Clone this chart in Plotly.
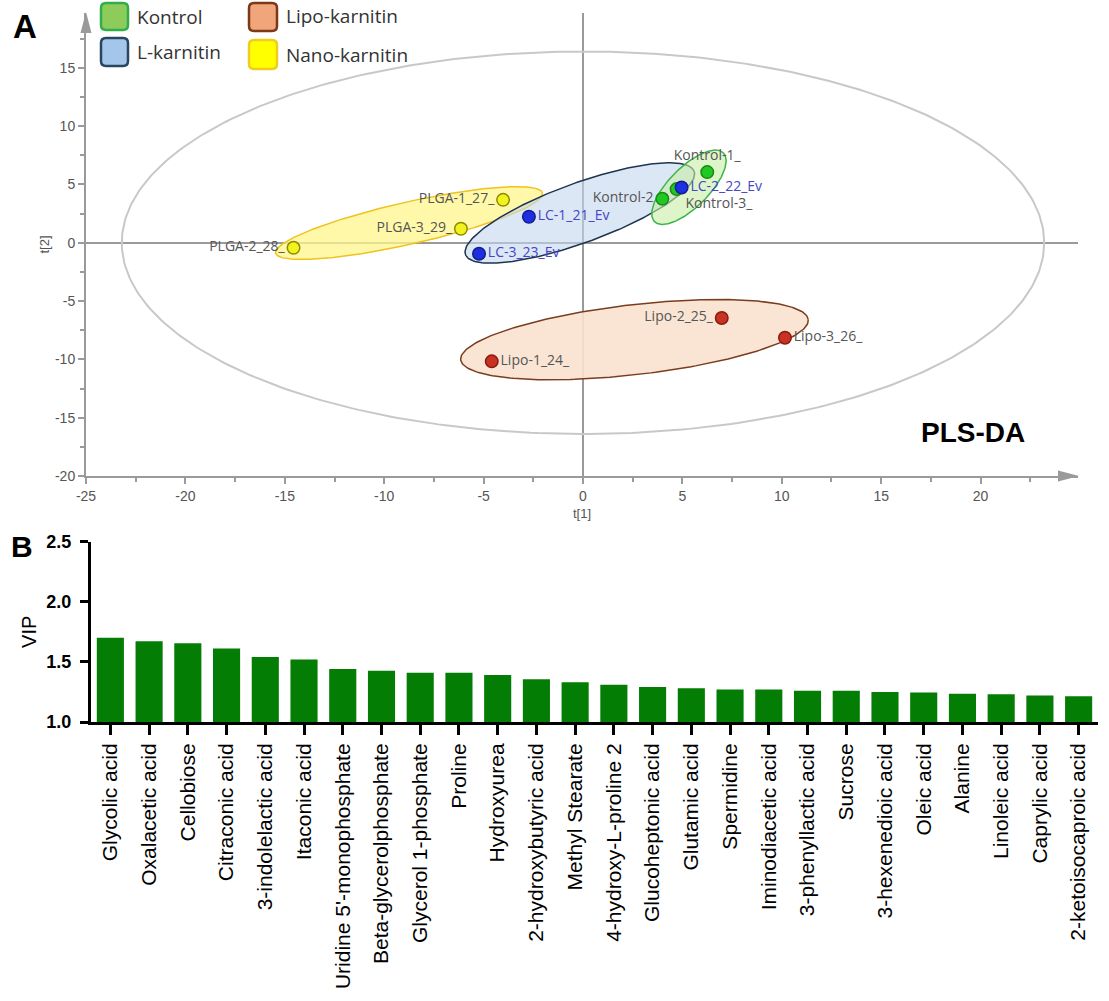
import numpy as np
import plotly.graph_objects as go

W, H = 1109, 1001

# ---------------- data: PLS-DA scores ----------------
kontrol_names = ["Kontrol-1_", "Kontrol-3_", "Kontrol-2"]
kontrol_t1 = [6.25, 4.71, 3.99]
kontrol_t2 = [6.06, 4.60, 3.77]

lc_names = ["LC-1_21_Ev", "LC-2_22_Ev", "LC-3_23_Ev"]
lc_t1 = [-2.72, 4.96, -5.23]
lc_t2 = [2.23, 4.74, -0.94]

lipo_names = ["Lipo-1_24_", "Lipo-2_25_", "Lipo-3_26_"]
lipo_t1 = [-4.59, 6.98, 10.16]
lipo_t2 = [-10.17, -6.45, -8.14]

plga_names = ["PLGA-1_27_", "PLGA-2_28_", "PLGA-3_29_"]
plga_t1 = [-4.02, -14.56, -6.14]
plga_t2 = [3.68, -0.43, 1.20]

# group ellipses: center t1, center t2, semi-major, semi-minor (t1 units), angle (deg)
ell_plga = [-8.75, 1.69, 6.88, 1.06, 12.7]
ell_lc = [-0.16, 2.55, 6.12, 1.50, 20.0]
ell_kontrol = [5.33, 4.76, 2.45, 1.0, 45.0]
ell_lipo = [2.59, -8.31, 8.80, 1.76, 6.6]
# Hotelling T2 ellipse: center, semi-axes in t1 / t2 units
ell_t2 = [0.0, 0.0, 23.2, 16.4]

legend_labels = ["Kontrol", "L-karnitin", "Lipo-karnitin", "Nano-karnitin"]

x_ticks_top = [-25, -20, -15, -10, -5, 0, 5, 10, 15, 20]
x_ticktext_top = ["-25", "-20", "-15", "-10", "-5", "0", "5", "10", "15", "20"]
y_ticks_top = [-20, -15, -10, -5, 0, 5, 10, 15]
y_ticktext_top = ["-20", "-15", "-10", "-5", "0", "5", "10", "15"]

# ---------------- data: VIP ----------------
metabolites = [
    "Glycolic acid", "Oxalacetic acid", "Cellobiose", "Citraconic acid",
    "3-indolelactic acid", "Itaconic acid", "Uridine 5'-monophosphate",
    "Beta-glycerolphosphate", "Glycerol 1-phosphate", "Proline", "Hydroxyurea",
    "2-hydroxybutyric acid", "Methyl Stearate", "4-hydroxy-L-proline 2",
    "Glucoheptonic acid", "Glutamic acid", "Spermidine", "Iminodiacetic acid",
    "3-phenyllactic acid", "Sucrose", "3-hexenedioic acid", "Oleic acid",
    "Alanine", "Linoleic acid", "Caprylic acid", "2-ketoisocaproic acid",
]
vip = [1.70, 1.672, 1.655, 1.61, 1.54, 1.52, 1.44, 1.425, 1.41, 1.41, 1.39,
       1.355, 1.33, 1.31, 1.29, 1.28, 1.27, 1.27, 1.26, 1.26, 1.25, 1.245,
       1.235, 1.23, 1.22, 1.215]
vip_ticks = [1.0, 1.5, 2.0, 2.5]

# ---------------- layout geometry ----------------
def px(x):
    return x / W

def py(y):
    return 1 - y / H

xr1 = [-25, 24.9]
yr1 = [-20, 19.7]
x1_px = [86, 1078]
y1_px = [476, 13]
xpx = (x1_px[1] - x1_px[0]) / (xr1[1] - xr1[0])
ypx = (y1_px[0] - y1_px[1]) / (yr1[1] - yr1[0])
ratio = xpx / ypx


def ellipse(cx, cy, a, b, ang):
    t = np.linspace(0, 2 * np.pi, 240)
    th = np.deg2rad(ang)
    u, v = a * np.cos(t), b * np.sin(t)
    dx = u * np.cos(th) - v * np.sin(th)
    dy = (u * np.sin(th) + v * np.cos(th)) * ratio
    return cx + dx, cy + dy


fig = go.Figure()

LABEL_FONT = "Open Sans, DejaVu Sans, sans-serif"
ARIAL = "Liberation Sans, Arial, sans-serif"

# big T2 ellipse
t = np.linspace(0, 2 * np.pi, 400)
fig.add_trace(go.Scatter(x=ell_t2[0] + ell_t2[2] * np.cos(t), y=ell_t2[1] + ell_t2[3] * np.sin(t),
                         mode="lines", line=dict(color="#c8c8c8", width=2),
                         hoverinfo="skip", showlegend=False, xaxis="x", yaxis="y"))

for e, fill, lc in [
    (ell_lipo, "rgba(250,226,208,0.9)", "#7a3c1e"),
    (ell_plga, "rgba(255,246,140,0.75)", "#efc21d"),
    (ell_lc, "rgba(196,215,238,0.6)", "#1e3550"),
    (ell_kontrol, "rgba(200,236,165,0.6)", "#3cb44b"),
]:
    ex, ey = ellipse(*e)
    fig.add_trace(go.Scatter(x=ex, y=ey, mode="lines", fill="toself", fillcolor=fill,
                             line=dict(color=lc, width=1.5), hoverinfo="skip",
                             showlegend=False, xaxis="x", yaxis="y"))

groups = [
    (kontrol_t1, kontrol_t2, kontrol_names, "#22c822", "#178a17", "#555555",
     ["top center", "bottom right", "middle left"]),
    (lc_t1, lc_t2, lc_names, "#1f2fe0", "#101f90", "#4545c8",
     ["middle right", "middle right", "middle right"]),
    (lipo_t1, lipo_t2, lipo_names, "#c83222", "#8a1a10", "#555555",
     ["middle right", "middle left", "middle right"]),
    (plga_t1, plga_t2, plga_names, "#f2f21e", "#8c8a00", "#555555",
     ["middle left", "middle left", "middle left"]),
]
for gx, gy, names, fc, oc, tc, pos in groups:
    fig.add_trace(go.Scatter(x=gx, y=gy, mode="markers+text", text=names,
                             textposition=pos,
                             textfont=dict(family=LABEL_FONT, size=14, color=tc),
                             marker=dict(size=12.5, color=fc, line=dict(color=oc, width=1.5)),
                             showlegend=False, xaxis="x", yaxis="y"))

# ---------------- VIP bars ----------------
fig.add_trace(go.Bar(x=metabolites, y=vip, marker=dict(color="#047d04", line=dict(width=0)),
                     showlegend=False, xaxis="x2", yaxis="y2"))

axis_gray = "#9a9a9a"
fig.update_layout(
    width=W, height=H, autosize=False,
    margin=dict(l=0, r=0, t=0, b=0, pad=0),
    paper_bgcolor="white", plot_bgcolor="white",
    bargap=0.3,
    xaxis=dict(domain=[px(x1_px[0]), px(x1_px[1])], range=xr1, showgrid=False, automargin=False,
               zeroline=True, zerolinecolor=axis_gray, zerolinewidth=1.5,
               showline=True, linecolor=axis_gray, linewidth=2,
               tickmode="array", tickvals=x_ticks_top, ticktext=x_ticktext_top,
               ticks="outside", ticklen=6, tickcolor=axis_gray, tickwidth=1.5,
               minor=dict(dtick=2.5, tick0=0, ticks="outside", ticklen=4, tickcolor=axis_gray),
               tickfont=dict(family=ARIAL, size=14, color="#555555"),
               title=dict(text="t[1]", standoff=6,
                          font=dict(family=ARIAL, size=13, color="#555555")),
               anchor="y"),
    yaxis=dict(domain=[py(y1_px[0]), py(y1_px[1])], range=yr1, showgrid=False, automargin=False,
               zeroline=True, zerolinecolor=axis_gray, zerolinewidth=1.5,
               showline=True, linecolor=axis_gray, linewidth=2,
               tickmode="array", tickvals=y_ticks_top, ticktext=y_ticktext_top,
               ticks="outside", ticklen=6, tickcolor=axis_gray, tickwidth=1.5,
               minor=dict(dtick=2.5, tick0=0, ticks="outside", ticklen=4, tickcolor=axis_gray),
               tickfont=dict(family=ARIAL, size=14, color="#555555"),
               title=dict(text="t[2]", standoff=2,
                          font=dict(family=ARIAL, size=13, color="#555555")),
               anchor="x"),
    xaxis2=dict(domain=[px(91), px(1098)], showgrid=False, zeroline=False, automargin=False,
                showline=True, linecolor="black", linewidth=3,
                ticks="outside", ticklen=10, tickwidth=3, tickcolor="black",
                tickangle=-90, categoryorder="array", categoryarray=metabolites,
                tickfont=dict(family=ARIAL, size=21, color="black"),
                anchor="y2"),
    yaxis2=dict(domain=[py(722), py(541.5)], range=[1.0, 2.5], showgrid=False, zeroline=False,
                automargin=False,
                showline=True, linecolor="black", linewidth=3,
                tickmode="array", tickvals=vip_ticks, tickformat=".1f",
                ticks="outside", ticklen=8, tickwidth=3, tickcolor="black",
                ticklabelstandoff=5,
                tickfont=dict(family=ARIAL, size=18, color="black", weight="bold"),
                title=dict(text="VIP", standoff=5,
                           font=dict(family=ARIAL, size=20, color="black")),
                anchor="x2"),
)

# axis arrows (decoration)
fig.add_shape(type="path", xref="paper", yref="paper",
              path=f"M {px(1079)} {py(476)} L {px(1058)} {py(470.5)} L {px(1058)} {py(481.5)} Z",
              fillcolor=axis_gray, line=dict(width=0))
fig.add_shape(type="path", xref="paper", yref="paper",
              path=f"M {px(86)} {py(12)} L {px(80.5)} {py(33)} L {px(91.5)} {py(33)} Z",
              fillcolor=axis_gray, line=dict(width=0))

# custom legend
def rounded_box(x0, y0, x1, y1, r=5):
    return (f"M {px(x0 + r)} {py(y0)} L {px(x1 - r)} {py(y0)} Q {px(x1)} {py(y0)} {px(x1)} {py(y0 + r)} "
            f"L {px(x1)} {py(y1 - r)} Q {px(x1)} {py(y1)} {px(x1 - r)} {py(y1)} "
            f"L {px(x0 + r)} {py(y1)} Q {px(x0)} {py(y1)} {px(x0)} {py(y1 - r)} "
            f"L {px(x0)} {py(y0 + r)} Q {px(x0)} {py(y0)} {px(x0 + r)} {py(y0)} Z")

legend_style = [
    ((101, 3, 128, 30), "#8dcc5a", "#2fae4a", (135, 17)),
    ((101, 38, 128, 66), "#a3c6ea", "#2a4560", (135, 52)),
    ((249, 3, 277, 31), "#f0a67a", "#7a3a18", (284, 16)),
    ((249, 40, 277, 69), "#ffff00", "#f0cc20", (284, 55)),
]
for lbl, (box, fc, lc, tpos) in zip(legend_labels, legend_style):
    fig.add_shape(type="path", xref="paper", yref="paper", path=rounded_box(*box),
                  fillcolor=fc, line=dict(color=lc, width=2.5))
    fig.add_annotation(x=px(tpos[0]), y=py(tpos[1]), xref="paper", yref="paper",
                       text=lbl, showarrow=False, xanchor="left", yanchor="middle",
                       font=dict(family=LABEL_FONT, size=19, color="#333333"))

# panel letters & PLS-DA
fig.add_annotation(x=px(25), y=py(26), xref="paper", yref="paper", text="<b>A</b>",
                   xanchor="center", yanchor="middle",
                   showarrow=False, font=dict(family=ARIAL, size=33, color="black"))
fig.add_annotation(x=px(22), y=py(546), xref="paper", yref="paper", text="<b>B</b>",
                   xanchor="center", yanchor="middle",
                   showarrow=False, font=dict(family=ARIAL, size=30, color="black"))
fig.add_annotation(x=19.6, y=-16.3, xref="x", yref="y", text="<b>PLS-DA</b>",
                   xanchor="center", yanchor="middle",
                   showarrow=False, font=dict(family=ARIAL, size=28, color="black"))

fig.write_html("out.html", config={"displayModeBar": False},
               post_script="document.body.style.margin='0';")
